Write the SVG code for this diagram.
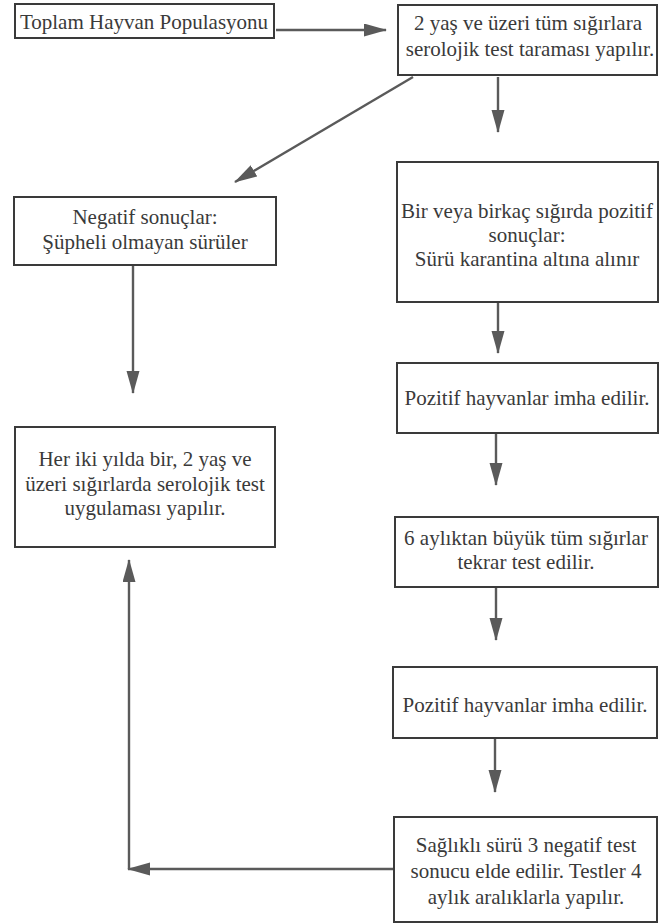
<svg xmlns="http://www.w3.org/2000/svg" width="671" height="924" viewBox="0 0 671 924">
<style>
.box{fill:#fff;stroke:#3a3a3a;stroke-width:2}
.t{font-family:'Liberation Serif','DejaVu Serif',serif;font-size:21px;fill:#3a3a3a;text-anchor:middle}
.c{fill:none;stroke:#5a5a5a;stroke-width:2.4}
</style>
<defs>
<marker id="ah" markerUnits="userSpaceOnUse" markerWidth="24" markerHeight="14" refX="22" refY="6.5" orient="auto">
<path d="M0,0 L23,6.5 L0,13 z" fill="#5a5a5a"/>
</marker>
</defs>
<rect width="671" height="924" fill="#fff"/>
<g id="connectors">
<line class="c" x1="276" y1="30" x2="386" y2="30" marker-end="url(#ah)"/>
<line class="c" x1="413" y1="77" x2="235" y2="182" marker-end="url(#ah)"/>
<line class="c" x1="498" y1="77" x2="498" y2="132" marker-end="url(#ah)"/>
<line class="c" x1="133" y1="265" x2="133" y2="393" marker-end="url(#ah)"/>
<line class="c" x1="498" y1="302" x2="498" y2="353" marker-end="url(#ah)"/>
<line class="c" x1="496" y1="433" x2="496" y2="485" marker-end="url(#ah)"/>
<line class="c" x1="496" y1="587" x2="496" y2="640" marker-end="url(#ah)"/>
<line class="c" x1="495" y1="738" x2="495" y2="792" marker-end="url(#ah)"/>
<line class="c" x1="393" y1="869" x2="128" y2="869" marker-end="url(#ah)"/>
<line class="c" x1="129" y1="869" x2="129" y2="560" marker-end="url(#ah)"/>
</g>
<g id="n1"><rect class="box" x="15" y="4" width="259" height="34"/><text class="t" x="144" y="29">Toplam Hayvan Populasyonu</text></g>
<g id="n2"><rect class="box" x="398" y="5" width="259" height="70"/><text class="t" x="528" y="30">2 yaş ve üzeri tüm sığırlara</text><text class="t" x="530" y="56">serolojik test taraması yapılır.</text></g>
<g id="n3"><rect class="box" x="14" y="197" width="262" height="68"/><text class="t" x="145" y="224">Negatif sonuçlar:</text><text class="t" x="145" y="249">Şüpheli olmayan sürüler</text></g>
<g id="n4"><rect class="box" x="397" y="162" width="261" height="140"/><text class="t" x="527" y="218">Bir veya birkaç sığırda pozitif</text><text class="t" x="527" y="242">sonuçlar:</text><text class="t" x="527" y="266">Sürü karantina altına alınır</text></g>
<g id="n5"><rect class="box" x="397" y="363" width="261" height="70"/><text class="t" x="527" y="405">Pozitif hayvanlar imha edilir.</text></g>
<g id="n6"><rect class="box" x="15" y="427" width="260" height="120"/><text class="t" x="145" y="466">Her iki yılda bir, 2 yaş ve</text><text class="t" x="145" y="491">üzeri sığırlarda serolojik test</text><text class="t" x="145" y="515">uygulaması yapılır.</text></g>
<g id="n7"><rect class="box" x="395" y="517" width="263" height="70"/><text class="t" x="526" y="545">6 aylıktan büyük tüm sığırlar</text><text class="t" x="526" y="569">tekrar test edilir.</text></g>
<g id="n8"><rect class="box" x="393" y="667" width="264" height="71"/><text class="t" x="525" y="712">Pozitif hayvanlar imha edilir.</text></g>
<g id="n9"><rect class="box" x="394" y="817" width="263" height="105"/><text class="t" x="526" y="852">Sağlıklı sürü 3 negatif test</text><text class="t" x="526" y="878">sonucu elde edilir. Testler 4</text><text class="t" x="526" y="904">aylık aralıklarla yapılır.</text></g>
</svg>
